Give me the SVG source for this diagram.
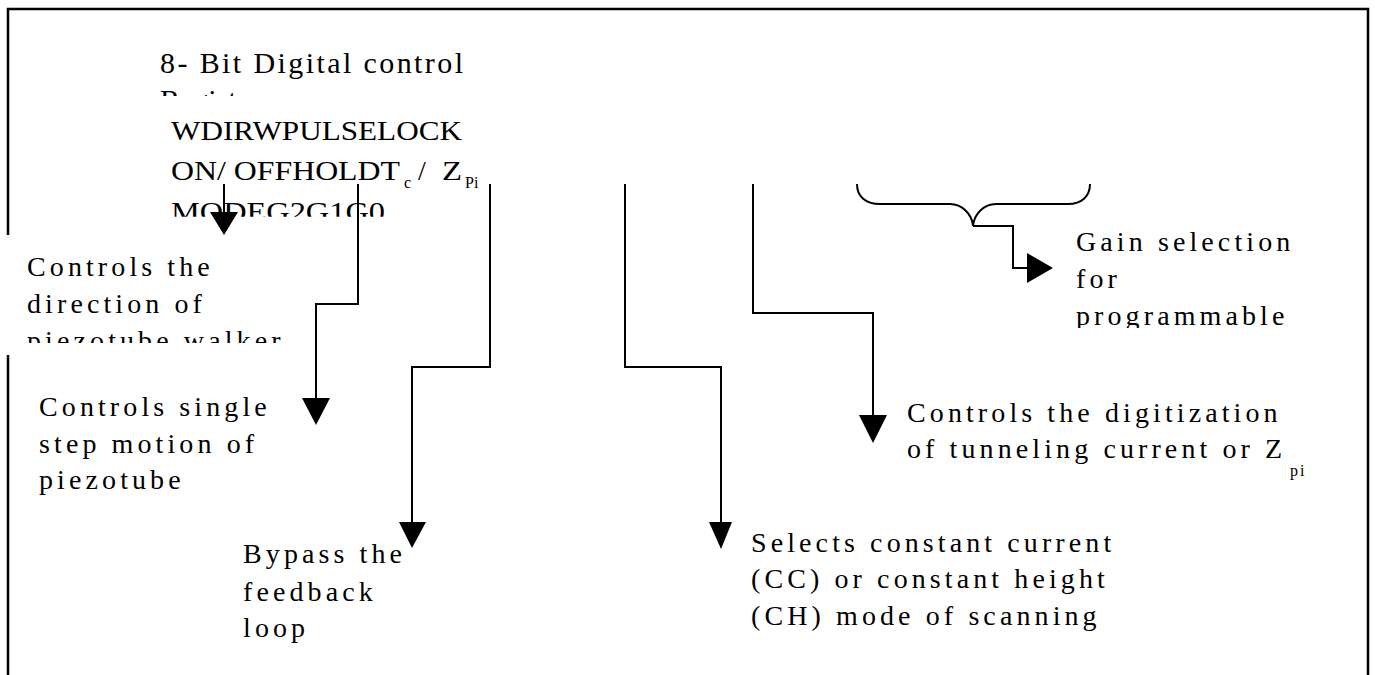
<svg xmlns="http://www.w3.org/2000/svg" width="1375" height="675" viewBox="0 0 1375 675">
<style>
.reg{font-family:"Liberation Serif","Times New Roman","DejaVu Serif",serif;font-size:28px;fill:#000}
.ttl{font-family:"Liberation Serif","Times New Roman","DejaVu Serif",serif;font-size:30px;fill:#000}
.lbl{font-family:"Liberation Serif","Times New Roman","DejaVu Serif",serif;font-size:28px;letter-spacing:4.1px;fill:#000}
.sub{font-family:"Liberation Serif","Times New Roman","DejaVu Serif",serif;font-size:16px;fill:#000}
.ln{fill:none;stroke:#000;stroke-width:2}
.hd{fill:#000;stroke:none}
.frame{fill:none;stroke:#000;stroke-width:2.5}
</style>
<defs>
<clipPath id="cTitle"><rect x="100" y="30" width="400" height="66"/></clipPath>
<clipPath id="cMode"><rect x="100" y="190" width="400" height="26.7"/></clipPath>
<clipPath id="cDir"><rect x="0" y="235" width="330" height="108"/></clipPath>
<clipPath id="cGain"><rect x="1060" y="215" width="300" height="113"/></clipPath>
</defs>
<path class="frame" d="M8,235 V9 H1368 V675 M8,355 V675"/>
<g id="register">
<g clip-path="url(#cTitle)">
<text class="ttl" x="160" y="73" textLength="303" lengthAdjust="spacing">8- Bit Digital control</text>
<text class="ttl" x="160" y="110">Register</text>
</g>
<text class="reg" x="171" y="140" textLength="291" lengthAdjust="spacingAndGlyphs">WDIRWPULSELOCK</text>
<text class="reg" x="171" y="180" textLength="229" lengthAdjust="spacingAndGlyphs">ON/ OFFHOLDT</text>
<text class="sub" x="404" y="188">c</text>
<text class="reg" x="418" y="180">/</text>
<text class="reg" x="442" y="180" textLength="20" lengthAdjust="spacingAndGlyphs">Z</text>
<text class="sub" x="465" y="188">Pi</text>
<g clip-path="url(#cMode)">
<text class="reg" x="171" y="221" textLength="214" lengthAdjust="spacingAndGlyphs">MODEG2G1G0</text>
</g>
</g>
<g id="label-wdir">
<rect x="0" y="235" width="300" height="120" fill="#fff"/>
<g clip-path="url(#cDir)">
<text class="lbl" x="27" y="276">Controls the</text>
<text class="lbl" x="27" y="313">direction of</text>
<text class="lbl" x="27" y="350">piezotube walker</text>
</g>
</g>
<g id="label-wpulse">
<text class="lbl" x="39" y="416">Controls single</text>
<text class="lbl" x="39" y="453">step motion of</text>
<text class="lbl" x="39" y="489">piezotube</text>
</g>
<g id="label-lock">
<text class="lbl" x="243" y="563">Bypass the</text>
<text class="lbl" x="243" y="601">feedback</text>
<text class="lbl" x="243" y="637">loop</text>
</g>
<g id="label-mode">
<text class="lbl" x="751" y="552">Selects constant current</text>
<text class="lbl" x="751" y="588">(CC) or constant height</text>
<text class="lbl" x="751" y="625">(CH) mode of scanning</text>
</g>
<g id="label-hold">
<text class="lbl" x="907" y="422">Controls the digitization</text>
<text class="lbl" x="907" y="458">of tunneling current or Z</text>
<text class="sub" x="1290" y="476" letter-spacing="2">pi</text>
</g>
<g id="label-gain">
<g clip-path="url(#cGain)">
<text class="lbl" x="1076" y="251">Gain selection</text>
<text class="lbl" x="1076" y="288">for</text>
<text class="lbl" x="1076" y="325">programmable</text>
</g>
</g>
<g id="connectors">
<path class="ln" d="M224,184 V214"/>
<polygon class="hd" points="210,212 238,212 224,235"/>
<path class="ln" d="M358,184 V304 H316 V400"/>
<polygon class="hd" points="302,398 330,398 316,425"/>
<path class="ln" d="M490,184 V367 H412 V524"/>
<polygon class="hd" points="399,522 426,522 412,548"/>
<path class="ln" d="M625,184 V367 H721 V524"/>
<polygon class="hd" points="709,522 732,522 721,549"/>
<path class="ln" d="M753,184 V313 H873 V417"/>
<polygon class="hd" points="859,415 887,415 873,443"/>
<path class="ln" d="M857,184 C857,196 865,204 880,204 H950 C962,204 972,214 973,226 C974,214 984,204 996,204 H1068 C1082,204 1090,196 1090,184"/>
<path class="ln" d="M973,226 H1013 V268 H1030"/>
<polygon class="hd" points="1027,253 1053,268 1027,283"/>
</g>
</svg>
